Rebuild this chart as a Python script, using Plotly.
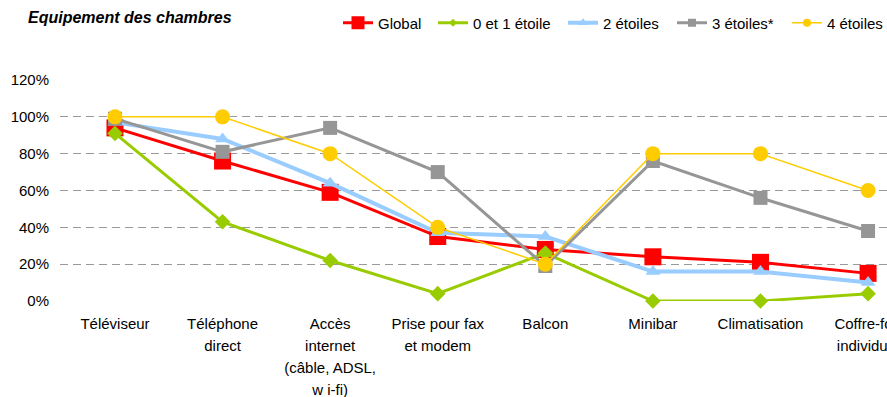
import plotly.graph_objects as go

# Room equipment rate by hotel category
categories = [
    "Téléviseur",
    "Téléphone<br>direct",
    "Accès<br>internet<br>(câble, ADSL,<br>w i-fi)",
    "Prise pour fax<br>et modem",
    "Balcon",
    "Minibar",
    "Climatisation",
    "Coffre-fort<br>individuel",
]

global_pct = [94, 76, 59, 35, 28, 24, 21, 15]
etoile_0_1 = [91, 43, 22, 4, 26, 0, 0, 4]
etoiles_2 = [97, 88, 64, 37, 35, 16, 16, 10]
etoiles_3 = [99, 81, 94, 70, 19, 76, 56, 38]
etoiles_4 = [100, 100, 80, 40, 20, 80, 80, 60]

y_ticks = [0, 20, 40, 60, 80, 100, 120]

FONT = "Liberation Sans, Arial, sans-serif"

# name, values, colour, line width, symbol, plot marker size, legend marker size, legend text x (px)
series = [
    ("Global", global_pct, "#FF0000", 3, "square", 17, 13, 378),
    ("0 et 1 étoile", etoile_0_1, "#99CC00", 3, "diamond", 12, 6, 473),
    ("2 étoiles", etoiles_2, "#99CCFF", 4, "triangle-up", 13, 9, 603),
    ("3 étoiles*", etoiles_3, "#969696", 3, "square", 14, 8, 712),
    ("4 étoiles", etoiles_4, "#FFCC00", 1.5, "circle", 15, 8, 827),
]

W, H = 887, 397
x_idx = list(range(len(categories)))


def small_lines(label):
    # larger tick font sets the line pitch, inner span sets the glyph size
    return "<br>".join(
        f'<span style="font-size:15px">{part}</span>' for part in label.split("<br>")
    )


fig = go.Figure()
for name, vals, color, lw, sym, msize, _, _ in series:
    fig.add_trace(go.Scatter(
        x=x_idx, y=vals, name=name, mode="lines+markers",
        line=dict(color=color, width=lw),
        marker=dict(symbol=sym, size=msize, color=color, line=dict(width=0)),
        cliponaxis=False, showlegend=False,
    ))

legend_layout = {}
for i, (name, vals, color, lw, sym, msize, lsize, text_x) in enumerate(series):
    key = "legend" if i == 0 else f"legend{i + 1}"
    fig.add_trace(go.Scatter(
        x=[None], y=[None], name=name, mode="lines+markers",
        line=dict(color=color, width=lw),
        marker=dict(symbol=sym, size=lsize, color=color, line=dict(width=0)),
        showlegend=True, legend=key,
    ))
    legend_layout[key] = dict(
        orientation="h", xref="container", yref="container",
        x=(text_x - 40) / W, xanchor="left",
        y=1 - 23 / H, yanchor="middle",
        font=dict(family=FONT, size=15, color="#000000"),
        bgcolor="rgba(0,0,0,0)", borderwidth=0,
    )

fig.update_layout(
    width=W, height=H,
    margin=dict(l=60, r=0, t=80, b=96),
    paper_bgcolor="white", plot_bgcolor="white",
    font=dict(family=FONT, size=15, color="#000000"),
    title=dict(
        text="<b><i>Equipement des chambres</i></b>",
        font=dict(family=FONT, size=16, color="#000000"),
        x=28 / W, xref="container", xanchor="left",
        y=1 - 17 / H, yref="container", yanchor="middle",
    ),
    showlegend=True,
    xaxis=dict(
        tickmode="array", tickvals=x_idx,
        ticktext=[small_lines(c) for c in categories],
        range=[-0.511, 7.176], showgrid=False, zeroline=False,
        showline=False, ticks="", ticklabelstandoff=10,
        ticklabeloverflow="allow",
        tickfont=dict(family=FONT, size=17, color="#000000"),
        automargin=False,
    ),
    yaxis=dict(
        range=[0, 120], tickvals=y_ticks,
        ticktext=[f"{v}%" for v in y_ticks],
        showgrid=True, gridcolor="#999999", gridwidth=1,
        griddash="8px,5px", zeroline=False, showline=False,
        ticks="", ticklabelstandoff=10,
        tickfont=dict(family=FONT, size=15, color="#000000"),
        automargin=False,
    ),
    **legend_layout,
)

fig.write_html("out.html")
